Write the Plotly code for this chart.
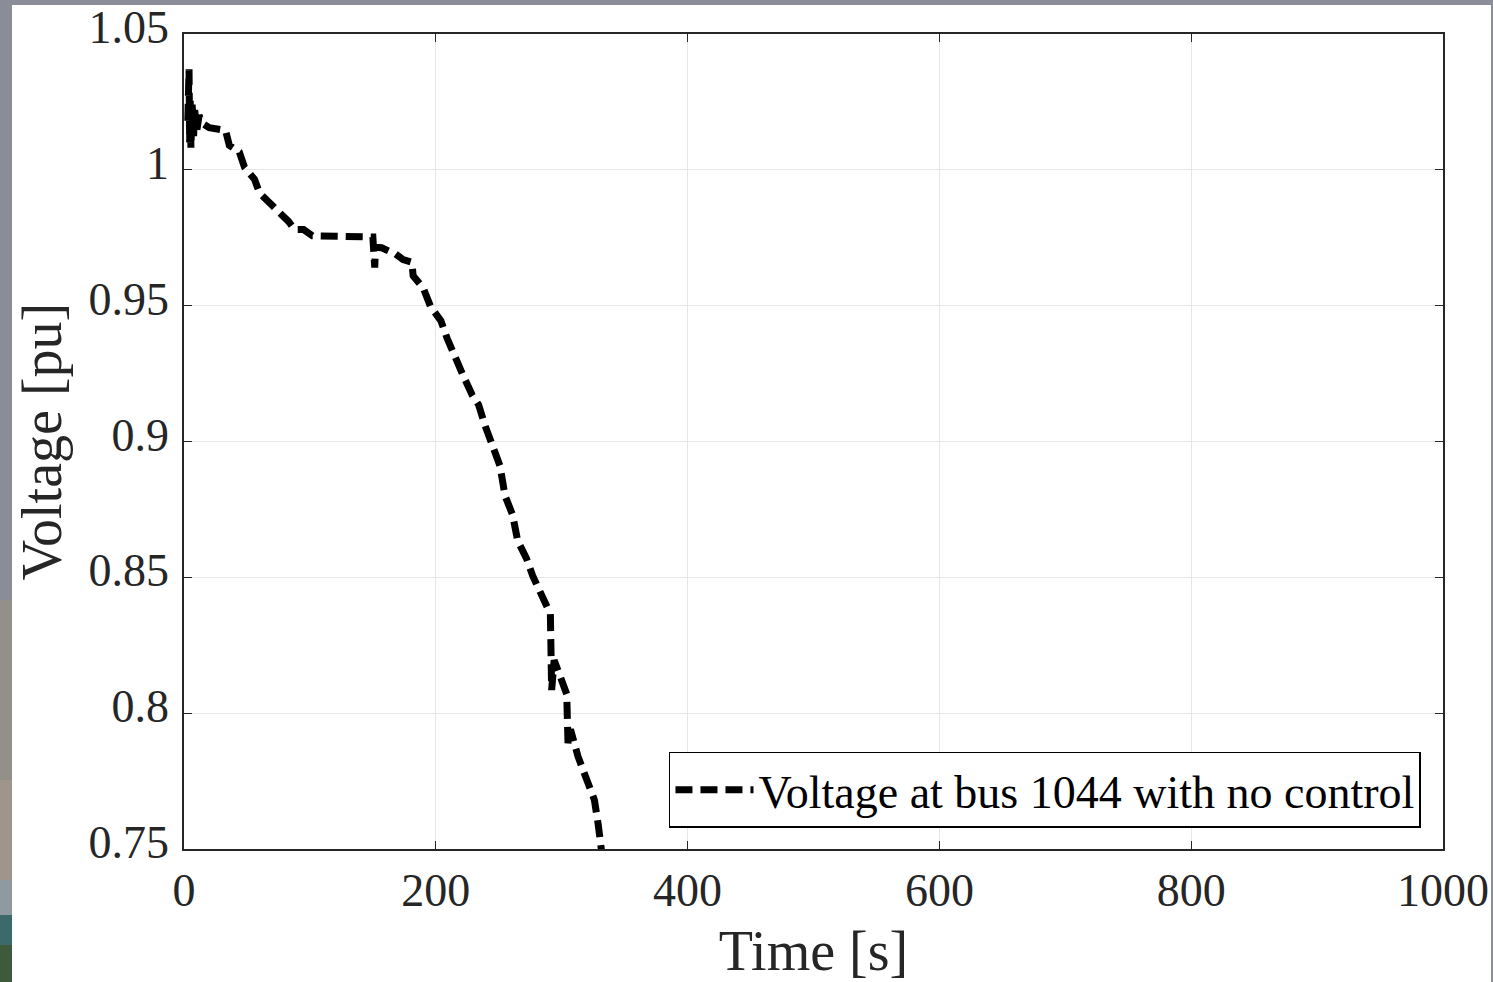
import plotly.graph_objects as go

# Time [s] and voltage [pu]
time_s = [3, 4, 4.5, 5, 5.5, 6.5, 7.5, 8.5, 10, 12, 15, 20, 33, 36, 44, 48, 56, 60, 68, 74, 83, 88,
          95, 102, 150, 151.5, 152, 157, 168, 174, 181, 182, 190, 196, 204, 209, 215, 222, 229,
          234, 239, 246, 251, 255, 261, 265, 272, 277, 285, 291, 291.5, 292, 294, 299, 304, 305,
          307, 313, 320, 326, 329, 332, 336]
voltage_pu = [1.018, 1.037, 1.010, 1.026, 1.008, 1.024, 1.011, 1.022, 1.014, 1.020, 1.017, 1.0155,
              1.0145, 1.009, 1.0065, 1.001, 0.9965, 0.9915, 0.988, 0.985, 0.981, 0.978, 0.978,
              0.9757, 0.9753, 0.964, 0.9715, 0.9713, 0.969, 0.967, 0.966, 0.961, 0.9565, 0.9495,
              0.9445, 0.938, 0.931, 0.924, 0.917, 0.9135, 0.906, 0.898, 0.891, 0.880, 0.873,
              0.8635, 0.857, 0.8505, 0.843, 0.8365, 0.823, 0.8085, 0.8195, 0.8135, 0.807, 0.789,
              0.794, 0.784, 0.776, 0.768, 0.759, 0.748, 0.72]

series_name = "Voltage at bus 1044 with no control"
x_ticks = [0, 200, 400, 600, 800, 1000]
y_ticks = [0.75, 0.8, 0.85, 0.9, 0.95, 1, 1.05]

FONT = "Liberation Serif, DejaVu Serif, serif"

fig = go.Figure()
fig.add_trace(go.Scatter(
    x=time_s, y=voltage_pu, mode="lines", name=series_name,
    line=dict(color="black", width=7, dash="17px,8px"),
))

axis_common = dict(
    showline=True, linecolor="#262626", linewidth=1.5, mirror="ticks",
    ticks="inside", ticklen=8, tickwidth=1.2, tickcolor="#262626",
    showgrid=True, gridcolor="#e6e6e6", gridwidth=1, zeroline=False,
    tickfont=dict(family=FONT, size=46, color="#262626"),
    automargin=False,
)

fig.update_xaxes(range=[0, 1000], tickvals=x_ticks,
                 title=dict(text="Time [s]", font=dict(family=FONT, size=56, color="#262626"), standoff=22),
                 **axis_common)
fig.update_yaxes(range=[0.75, 1.05], tickvals=y_ticks, ticklabelstandoff=4, ticklabelshift=-7,
                 title=dict(text="Voltage [pu]", font=dict(family=FONT, size=56, color="#262626"), standoff=9),
                 **axis_common)

# decorative page border (photo edge seen around the reference)
border_shapes = []
strip_bands = [(1.0417, 0.3055, "#8a8d98"), (0.3055, 0.0847, "#929088"), (0.0847, -0.0380, "#a0958a"),
               (-0.0380, -0.0810, "#8e9aa0"), (-0.0810, -0.1178, "#3c6a6a"), (-0.1178, -0.1640, "#3d5a3a")]
for y1, y0, col in strip_bands:
    border_shapes.append(dict(type="rect", xref="paper", yref="paper", x0=-0.1470, x1=-0.1366,
                              y0=y0, y1=y1, fillcolor=col, line=dict(width=0), layer="below"))
border_shapes.append(dict(type="rect", xref="paper", yref="paper", x0=-0.1366, x1=1.0381,
                          y0=-0.17, y1=1.0356, fillcolor="white", line=dict(width=0), layer="below"))

fig.update_layout(
    width=1493, height=982,
    margin=dict(l=184, r=50, t=34, b=133, autoexpand=False),
    paper_bgcolor="#8b8e99",
    plot_bgcolor="white",
    showlegend=True,
    legend=dict(x=0.9825, y=0.026, xanchor="right", yanchor="bottom",
                bgcolor="white", bordercolor="black", borderwidth=1.5,
                font=dict(family=FONT, size=46, color="black"),
                itemwidth=78),
    shapes=border_shapes,
)

fig.write_html("out.html", config={"displayModeBar": False},
               post_script="document.body.style.margin='0';")
